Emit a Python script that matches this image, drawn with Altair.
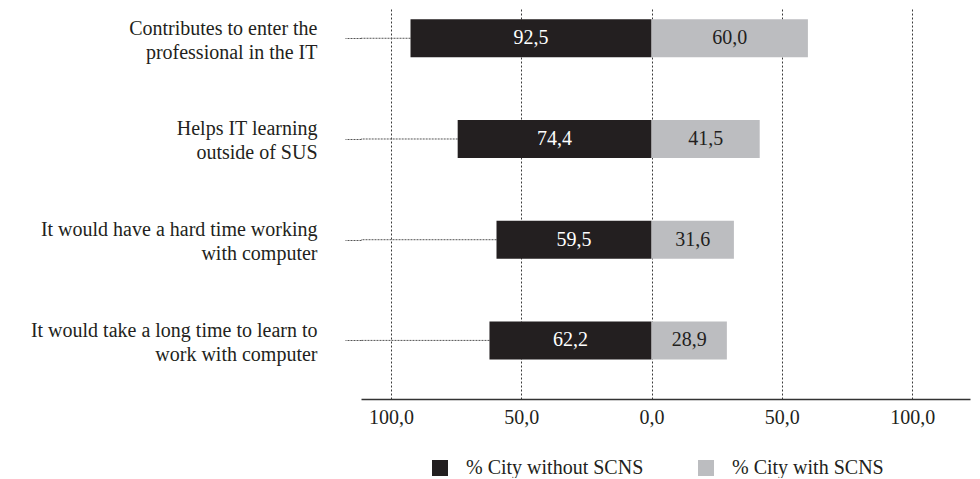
import json
import altair as alt
import pandas as pd

# ---- data ----
label_lines = [
    ["Contributes to enter the", "professional in the IT"],
    ["Helps IT learning", "outside of SUS"],
    ["It would have a hard time working", "with computer"],
    ["It would take a long time to learn to", "work with computer"],
]
categories = [" ".join(l) for l in label_lines]
without_scns = [92.5, 74.4, 59.5, 62.2]
with_scns = [60.0, 41.5, 31.6, 28.9]
series_names = ["% City without SCNS", "% City with SCNS"]
x_ticks = [-100, -50, 0, 50, 100]

rows = []
for i, cat in enumerate(categories):
    for s, v, sign in ((series_names[0], without_scns[i], -1), (series_names[1], with_scns[i], 1)):
        rows.append({
            "category": cat,
            "pos": i,
            "series": s,
            "value": v,
            "signed": sign * v,
            "zero": 0,
            "mid": sign * v / 2,
            "label": f"{v:.1f}".replace(".", ","),
        })
df = pd.DataFrame(rows)

FONT = "Liberation Serif"
FS = 20
TXT = "#231f20"

x_scale = alt.Scale(domain=[-111.5, 122.2], nice=False, zero=False)
y_scale = alt.Scale(domain=[-0.251, 3.532], nice=False, zero=False, reverse=True)

x_axis = alt.Axis(
    values=x_ticks, grid=True, gridDash=[2, 2], gridColor="#3a3a3a", gridWidth=1,
    ticks=False, domainColor="#333333", domainWidth=1.5,
    labelExpr="replace(format(abs(datum.value), '.1f'), '.', ',')",
    labelFont=FONT, labelFontSize=FS, labelColor=TXT, labelPadding=8,
    labelFlush=False, title=None,
)
y_label_expr = json.dumps(label_lines) + "[datum.value]"
y_axis = alt.Axis(
    values=list(range(len(categories))), grid=False, domain=False,
    ticks=True, tickSize=16, tickDash=[2, 1], tickColor="#555555", tickWidth=1,
    labelExpr=y_label_expr, labelFont=FONT, labelFontSize=FS, labelColor=TXT,
    labelPadding=28, labelBaseline="alphabetic", labelOffset=-4,
    labelLineHeight=24, labelAlign="right", labelOverlap=False, labelFlush=False,
    labelLimit=400, title=None,
)

base = alt.Chart(df)

leaders = base.transform_filter(
    alt.datum.series == series_names[0]
).mark_rule(strokeDash=[2, 1], color="#555555", strokeWidth=1).encode(
    x=alt.X("signed:Q", scale=x_scale, axis=x_axis),
    x2=alt.value(0),
    y=alt.Y("pos:Q", scale=y_scale, axis=y_axis),
)

bars = base.mark_bar(orient="horizontal", size=38).encode(
    x=alt.X("signed:Q", scale=x_scale, axis=x_axis),
    x2=alt.X2("zero"),
    y=alt.Y("pos:Q", scale=y_scale, axis=y_axis),
    color=alt.Color(
        "series:N",
        scale=alt.Scale(domain=series_names, range=["#231f20", "#bcbdc0"]),
        legend=alt.Legend(
            orient="none", legendX=69, legendY=450, direction="horizontal",
            symbolType="square", symbolSize=256, symbolStrokeWidth=0,
            labelFont=FONT, labelFontSize=FS, labelColor=TXT,
            labelOffset=16, columnPadding=52, labelLimit=400, title=None,
        ),
    ),
)

texts = base.mark_text(font=FONT, fontSize=FS, baseline="middle", align="center").encode(
    x=alt.X("mid:Q", scale=x_scale, axis=x_axis),
    y=alt.Y("pos:Q", scale=y_scale, axis=y_axis),
    text="label:N",
    color=alt.condition(
        alt.datum.series == series_names[0], alt.value("white"), alt.value(TXT)
    ),
)

chart = alt.layer(leaders, bars, texts).properties(
    width=609,
    height=391,
    autosize=alt.AutoSizeParams(type="none"),
    padding={"left": 353, "top": 0, "right": 2, "bottom": 79},
).configure_view(stroke=None)

chart.save("out.html", embed_options={"renderer": "svg", "actions": False})
